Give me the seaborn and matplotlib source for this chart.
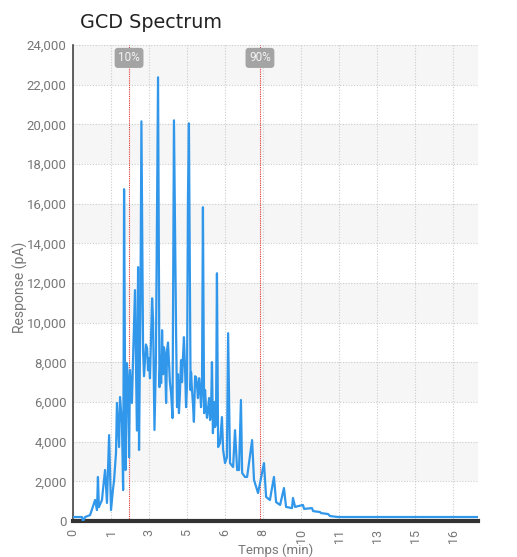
import pandas as pd
import matplotlib
matplotlib.use("Agg")
import matplotlib.pyplot as plt
import seaborn as sns

# chromatogram trace (time in min, response in pA)
time_min = [0.00, 0.38, 0.42, 0.51, 0.72, 0.93, 1.01, 1.05, 1.09, 1.22,
            1.26, 1.35, 1.43, 1.52, 1.60, 1.68, 1.73, 1.81, 1.85, 1.94,
            1.98, 2.06, 2.11, 2.13, 2.15, 2.21, 2.27, 2.32, 2.36, 2.40,
            2.48, 2.53, 2.61, 2.69, 2.74, 2.78, 2.84, 2.88, 2.95, 2.99,
            3.03, 3.07, 3.12, 3.16, 3.20, 3.24, 3.33, 3.37, 3.43, 3.49,
            3.58, 3.64, 3.68, 3.71, 3.75, 3.79, 3.83, 3.87, 3.92, 3.96,
            4.00, 4.04, 4.08, 4.13, 4.19, 4.25, 4.34, 4.38, 4.42, 4.46,
            4.50, 4.55, 4.59, 4.63, 4.67, 4.72, 4.76, 4.80, 4.84, 4.88,
            4.95, 4.97, 5.01, 5.05, 5.09, 5.14, 5.18, 5.22, 5.26, 5.31,
            5.35, 5.39, 5.43, 5.47, 5.52, 5.56, 5.60, 5.64, 5.68, 5.73,
            5.77, 5.81, 5.85, 5.89, 5.94, 5.98, 6.02, 6.06, 6.11, 6.19,
            6.27, 6.32, 6.40, 6.48, 6.53, 6.61, 6.74, 6.82, 6.91, 6.99,
            7.07, 7.12, 7.24, 7.33, 7.54, 7.62, 7.75, 7.79, 8.04, 8.13,
            8.29, 8.46, 8.55, 8.72, 8.88, 8.97, 9.22, 9.26, 9.35, 9.68,
            9.73, 10.06, 10.11, 10.40, 10.44, 10.74, 10.82, 11.16, 17.05]
response_pa = [200, 200, 0, 200, 300, 1060, 550, 2220, 700, 1060,
               1560, 2570, 910, 4330, 550, 1560, 2070, 3430, 5950, 3730,
               6250, 4940, 1560, 7610, 16730, 2570, 7960, 6950, 3220, 7610,
               5950, 8260, 11640, 4560, 12800, 3580, 11080, 20150, 8570, 7300,
               8060, 8900, 8710, 7600, 8210, 7200, 11230, 10130, 4590, 8110,
               22370, 6750, 8300, 6950, 9620, 7400, 8760, 8400, 5950, 8620,
               9000, 7960, 7000, 6450, 5190, 20200, 9470, 5740, 7400, 5440,
               6400, 8110, 7000, 8260, 9270, 7600, 5740, 6900, 16330, 20050,
               6600, 7500, 6600, 5900, 5000, 7300, 7250, 6850, 6200, 7200,
               6800, 5740, 6500, 15820, 5440, 6600, 5740, 5200, 5590, 6200,
               5090, 5400, 8010, 4430, 6000, 4740, 4900, 12490, 3730, 3930,
               5240, 3580, 2920, 3220, 9470, 2920, 2720, 4580, 2570, 2570,
               6100, 2420, 2220, 2220, 4080, 2070, 1560, 1410, 2920, 1210,
               1060, 2220, 950, 810, 1660, 710, 650, 1160, 710, 810,
               610, 650, 500, 450, 400, 350, 250, 200, 200]

tick_pos = [0, 1.6, 3.2, 4.8, 6.4, 8.0, 9.6, 11.2, 12.8, 14.4, 16.0]
tick_labels = ["0", "1", "3", "5", "6", "8", "10", "11", "13", "15", "16"]
marker_times = [2.36, 7.87]
marker_labels = ["10%", "90%"]

df = pd.DataFrame({"Temps": time_min, "Response": response_pa})

sns.set_style("white")
plt.rcParams["font.family"] = ["Roboto", "DejaVu Sans"]

fig = plt.figure(figsize=(5.17, 5.57), dpi=100)
ax = fig.add_axes([73 / 517, 1 - 521 / 557, 405 / 517, 476 / 557])

# alternating background bands
for y0 in range(2000, 24000, 4000):
    ax.axhspan(y0, y0 + 2000, color="#f6f6f6", zorder=0, lw=0)

sns.lineplot(data=df, x="Temps", y="Response", ax=ax, color="#3197ea",
             linewidth=1.6, estimator=None, sort=False, zorder=3)

for t, lab in zip(marker_times, marker_labels):
    ax.axvline(t, color="#e03030", ls=(0, (1, 1)), lw=0.8, zorder=2)
    ax.text(t, 23350, lab, ha="center", va="center", fontsize=8.5,
            color="#f4f4f4", zorder=4,
            bbox=dict(boxstyle="round,pad=0.3", fc="#a4a4a4", ec="none"))

ax.set_xlim(0, 17.05)
ax.set_ylim(0, 24000)
ax.set_xticks(tick_pos)
ax.set_xticklabels(tick_labels, rotation=90)
ax.set_yticks(range(0, 24001, 2000))
ax.set_yticklabels([f"{v:,}" for v in range(0, 24001, 2000)])
ax.grid(True, color="#cccccc", ls=(0, (1, 1.5)), lw=0.8, zorder=1)
ax.set_axisbelow(True)

ax.tick_params(axis="y", direction="inout", length=5, width=1, color="#444444",
               labelcolor="#777777", labelsize=9.5, pad=2)
ax.tick_params(axis="x", direction="inout", length=7, width=1.2, color="#222222",
               labelcolor="#777777", labelsize=9, pad=2)

for s in ["top", "right"]:
    ax.spines[s].set_visible(False)
ax.spines["left"].set_color("#444444")
ax.spines["left"].set_linewidth(1.2)
ax.spines["bottom"].set_color("#333333")
ax.spines["bottom"].set_linewidth(3)

ax.set_xlabel("Temps (min)", fontsize=9.5, color="#777777")
ax.set_ylabel("Response (pA)", fontsize=10, color="#777777")
ax.xaxis.set_label_coords(0.5, -0.048)
ax.yaxis.set_label_coords(-0.111, 0.49)

fig.text(80 / 517, 1 - 28 / 557, "GCD Spectrum", fontsize=13.8,
         family="DejaVu Sans", color="#222222", va="baseline", ha="left")

fig.savefig("out.png", dpi=100)
